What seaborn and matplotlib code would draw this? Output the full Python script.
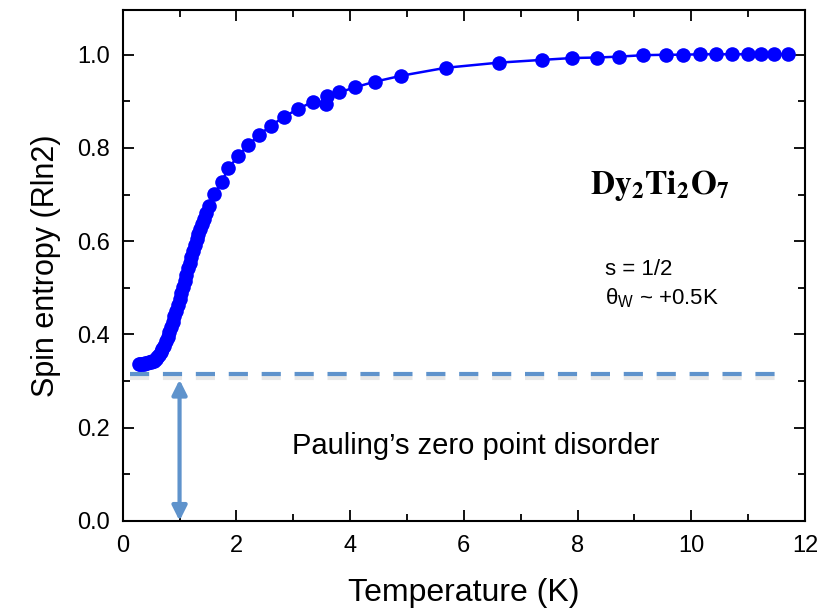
import matplotlib
matplotlib.use("Agg")
import matplotlib.pyplot as plt
import matplotlib.patheffects as pe
from matplotlib.ticker import MultipleLocator, FormatStrFormatter
import seaborn as sns
import pandas as pd

# Spin entropy of Dy2Ti2O7
temperature = [0.28, 0.31, 0.34, 0.37, 0.40, 0.43, 0.46, 0.49, 0.52, 0.55,
               0.58, 0.61, 0.64, 0.67, 0.70, 0.73, 0.76, 0.79, 0.82, 0.85,
               0.88, 0.91, 0.94, 0.97, 1.00, 1.03, 1.06, 1.09, 1.12, 1.15,
               1.18, 1.21, 1.24, 1.27, 1.30, 1.33, 1.36, 1.39, 1.43, 1.47,
               1.51, 1.61, 1.74, 1.86, 2.03, 2.21,
               2.40, 2.61, 2.84, 3.09, 3.34, 3.58, 3.60, 3.81, 4.08, 4.43,
               4.90, 5.68, 6.61, 7.38, 7.91, 8.34, 8.73, 9.15, 9.55, 9.86,
               10.15, 10.43, 10.71, 10.99, 11.23, 11.46, 11.70]
entropy = [0.336, 0.336, 0.337, 0.337, 0.338, 0.339, 0.340, 0.341, 0.342, 0.344,
           0.347, 0.351, 0.356, 0.362, 0.368, 0.376, 0.385, 0.394, 0.405, 0.416,
           0.427, 0.439, 0.451, 0.464, 0.476, 0.489, 0.502, 0.515, 0.528, 0.542,
           0.554, 0.567, 0.580, 0.592, 0.604, 0.615, 0.626, 0.636, 0.648, 0.661,
           0.675, 0.701, 0.728, 0.756, 0.783, 0.806,
           0.828, 0.848, 0.867, 0.884, 0.899, 0.895, 0.911, 0.919, 0.930, 0.942,
           0.955, 0.972, 0.983, 0.989, 0.993, 0.994, 0.996, 0.999, 1.000, 1.000,
           1.001, 1.001, 1.001, 1.001, 1.001, 1.001, 1.001]

pauling = 0.315
pauling_x = [0.12, 11.55]
arrow_x = 1.0

data = pd.DataFrame({"T": temperature, "S": entropy})

sns.set_style("ticks")
plt.rcParams["font.family"] = ["Liberation Sans", "DejaVu Sans"]
plt.rcParams["mathtext.fontset"] = "custom"
plt.rcParams["mathtext.rm"] = "Liberation Sans"
plt.rcParams["text.color"] = "black"
plt.rcParams["axes.labelcolor"] = "black"
plt.rcParams["xtick.color"] = "black"
plt.rcParams["ytick.color"] = "black"

fig = plt.figure(figsize=(8.29, 6.15), dpi=100)
ax = fig.add_axes([0.148, 0.153, 0.823, 0.83])

sns.lineplot(data=data, x="T", y="S", ax=ax, estimator=None, sort=False,
             color="#0000ff", lw=1.8, marker="o", markersize=10.5,
             markeredgewidth=0, zorder=5)

# zero point entropy line with a soft shadow
ax.plot(pauling_x, [pauling, pauling], color="#5f93cc", lw=3,
        dashes=(4.6, 3.3), zorder=4,
        path_effects=[pe.SimpleLineShadow(offset=(0, -2.5), shadow_color="gray", alpha=0.18),
                      pe.Normal()])
ax.annotate("", xy=(arrow_x, 0.0), xytext=(arrow_x, pauling - 0.012),
            arrowprops=dict(arrowstyle="<|-|>", color="#5f93cc", lw=3,
                            mutation_scale=22, shrinkA=0, shrinkB=0),
            zorder=4)

ax.text(6.2, 0.16, "Pauling\u2019s zero point disorder", fontsize=21,
        ha="center", va="center")
ax.text(9.44, 0.72, r"$\mathbf{Dy_2Ti_2O_7}$", fontsize=24, ha="center",
        va="center", math_fontfamily="stix")
ax.text(8.49, 0.54, "s = 1/2", fontsize=16, ha="left", va="center")
ax.text(8.49, 0.478, "\u03b8$_{\\mathrm{W}}$ ~ +0.5K", fontsize=16,
        ha="left", va="center")

ax.set_xlim(0, 12)
ax.set_ylim(0, 1.095)
ax.xaxis.set_major_locator(MultipleLocator(2))
ax.xaxis.set_minor_locator(MultipleLocator(1))
ax.yaxis.set_major_locator(MultipleLocator(0.2))
ax.yaxis.set_minor_locator(MultipleLocator(0.1))
ax.yaxis.set_major_formatter(FormatStrFormatter("%.1f"))
ax.tick_params(which="both", direction="in", top=True, right=True,
               width=1.3, labelsize=17)
ax.tick_params(which="major", length=8)
ax.tick_params(which="minor", length=5)
ax.tick_params(axis="x", pad=10)
ax.tick_params(axis="y", pad=9)
for s in ax.spines.values():
    s.set_linewidth(1.5)
    s.set_color("black")

ax.set_xlabel("Temperature (K)", fontsize=23, labelpad=15)
ax.set_ylabel("Spin entropy (Rln2)", fontsize=22, labelpad=12)

fig.savefig("out.png", dpi=100)
